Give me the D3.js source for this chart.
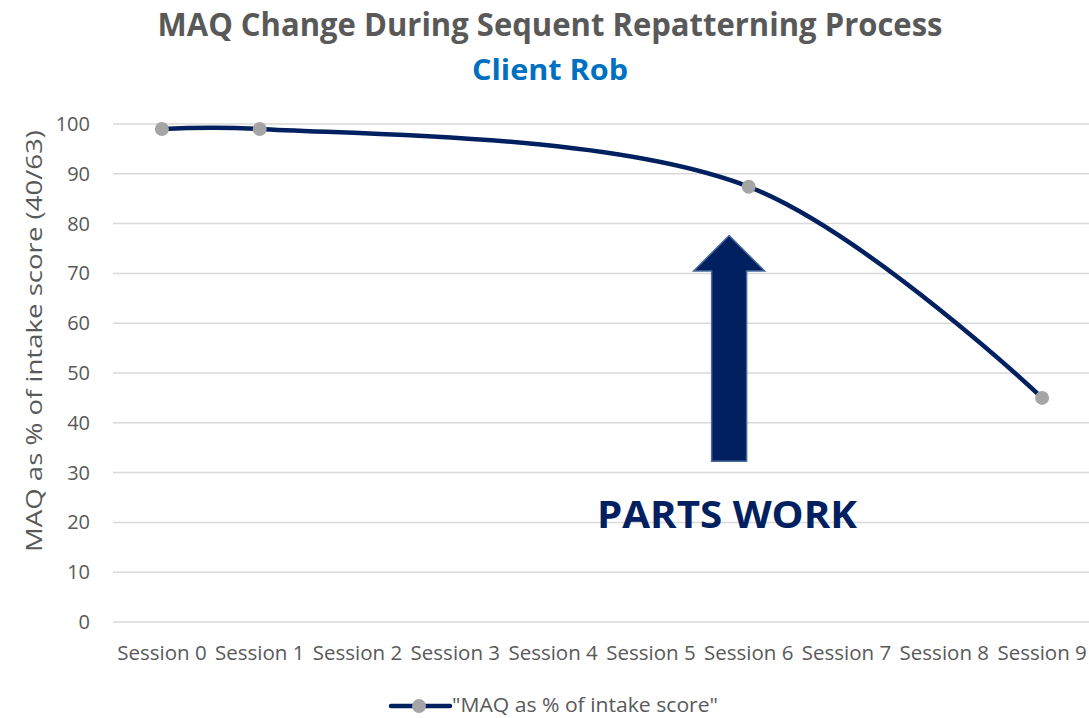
<!DOCTYPE html>
<html>
<head>
<meta charset="utf-8">
<script src="https://cdn.jsdelivr.net/npm/d3@7"></script>
<style>
  body { margin: 0; background: #fff; }
  svg text { font-family: "Open Sans", sans-serif; }
</style>
</head>
<body>
<div id="chart"></div>
<script>
// data (null = no entry for that session)
var sessions = ["Session 0","Session 1","Session 2","Session 3","Session 4",
                "Session 5","Session 6","Session 7","Session 8","Session 9"];
var maqValues = [99, 99, null, null, null, null, 87.4, null, null, 45];
var yTicks = [0,10,20,30,40,50,60,70,80,90,100];
var seriesName = "\"MAQ as % of intake score\"";
var chartTitle = "MAQ Change During Sequent Repatterning Process";
var chartSubtitle = "Client Rob";
var annotationText = "PARTS WORK";

var width = 1089, height = 718;
var margin = {left: 113, right: -2, top: 124, bottom: 96};

var svg = d3.select("#chart").append("svg")
	.attr("width", width)
	.attr("height", height);

var x = d3.scaleBand().domain(sessions).range([margin.left, width - margin.right]);
var y = d3.scaleLinear().domain([0, 100]).range([height - margin.bottom, margin.top]);

// gridlines
svg.append("g").selectAll("line").data(yTicks).enter().append("line")
	.attr("x1", margin.left).attr("x2", width)
	.attr("y1", function(d){ return y(d); })
	.attr("y2", function(d){ return y(d); })
	.style("stroke", "#d9d9d9").style("stroke-width", 1.5);

// y axis labels
var yAxis = d3.axisLeft(y).tickValues(yTicks).tickSize(0).tickPadding(0);
var yg = svg.append("g").attr("transform", "translate(90,0)").call(yAxis);
yg.select(".domain").remove();
yg.selectAll("text").style("font-size", "20px").style("fill", "#595959")
	.style("font-family", "'Open Sans', sans-serif");

// x axis labels
var xAxis = d3.axisBottom(x).tickSize(0).tickPadding(0);
var xg = svg.append("g").attr("transform", "translate(0," + 645 + ")").call(xAxis);
xg.select(".domain").remove();
xg.selectAll("text").style("font-size", "20.5px").style("fill", "#595959")
	.style("font-family", "'Open Sans', sans-serif");

// y axis title
svg.append("text")
	.attr("transform", "translate(42," + 341 + ") rotate(-90)")
	.attr("text-anchor", "middle")
	.attr("textLength", 422).attr("lengthAdjust", "spacingAndGlyphs")
	.style("font-size", "22px").style("fill", "#595959")
	.text("MAQ as % of intake score (40/63)");

// titles
svg.append("text").attr("x", 550).attr("y", 36).attr("text-anchor", "middle")
	.attr("textLength", 785).attr("lengthAdjust", "spacingAndGlyphs")
	.style("font-size", "33px").style("font-weight", "bold").style("fill", "#595959")
	.text(chartTitle);
svg.append("text").attr("x", 550).attr("y", 80).attr("text-anchor", "middle")
	.attr("textLength", 156).attr("lengthAdjust", "spacingAndGlyphs")
	.style("font-size", "28px").style("font-weight", "bold").style("fill", "#0070c0")
	.text(chartSubtitle);

// the series: smoothed line through the sessions that have a value
var pts = [];
for (var i = 0; i < sessions.length; i++) {
	if (maqValues[i] != null) pts.push([sessions[i], maqValues[i]]);
}
var cx = function(d){ return x(d[0]) + x.bandwidth() / 2; };
var line = d3.line().x(cx).y(function(d){ return y(d[1]); })
	.curve(d3.curveCatmullRom.alpha(0.5));

svg.append("path").datum(pts)
	.attr("d", line)
	.style("fill", "none").style("stroke", "#002060").style("stroke-width", 4.5)
	.style("stroke-linecap", "round");

svg.append("g").selectAll("circle").data(pts).enter().append("circle")
	.attr("cx", cx).attr("cy", function(d){ return y(d[1]); })
	.attr("r", 7).style("fill", "#a5a5a5");

// arrow annotation (position in category/value units)
var step = x.step();
var arrowX = x("Session 5") + x.bandwidth() / 2 + 0.8 * step;
var shaftHalf = 17.5, headHalf = 35.5;
var tipV = 77.6, headV = 70.5, bottomV = 32.3;
var arrowPts = [
	[arrowX, y(tipV)],
	[arrowX + headHalf, y(headV)],
	[arrowX + shaftHalf, y(headV)],
	[arrowX + shaftHalf, y(bottomV)],
	[arrowX - shaftHalf, y(bottomV)],
	[arrowX - shaftHalf, y(headV)],
	[arrowX - headHalf, y(headV)]
];
svg.append("path")
	.attr("d", "M" + arrowPts.map(function(p){ return p.join(","); }).join("L") + "Z")
	.style("fill", "#002060").style("stroke", "#4a6c9c").style("stroke-width", 1.5);

svg.append("text").attr("x", 727).attr("y", y(18.8)).attr("text-anchor", "middle")
	.attr("textLength", 260).attr("lengthAdjust", "spacingAndGlyphs")
	.style("font-size", "37px").style("font-weight", "bold").style("fill", "#002060")
	.text(annotationText);

// legend
var lg = svg.append("g");
lg.append("line").attr("x1", 391).attr("x2", 450).attr("y1", 706).attr("y2", 706)
	.style("stroke", "#002060").style("stroke-width", 4.5).style("stroke-linecap", "round");
lg.append("circle").attr("cx", 419).attr("cy", 706).attr("r", 7).style("fill", "#a5a5a5");
lg.append("text").attr("x", 452).attr("y", 712)
	.attr("textLength", 266).attr("lengthAdjust", "spacingAndGlyphs")
	.style("font-size", "20px").style("fill", "#595959")
	.text(seriesName);
</script>
</body>
</html>
